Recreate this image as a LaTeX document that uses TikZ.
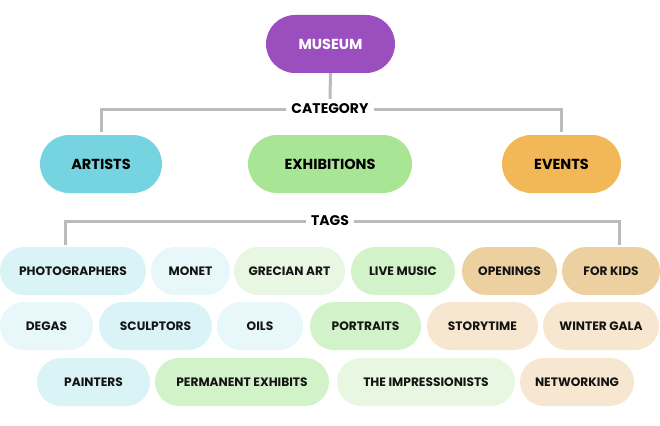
\documentclass[tikz,border=0pt]{standalone}
\usepackage{fontspec}
\setmainfont{Poppins}[BoldFont={Poppins Bold}]
\definecolor{museumc}{HTML}{9B4FBF}
\definecolor{artc}{HTML}{76D3E0}
\definecolor{exhc}{HTML}{A8E696}
\definecolor{evtc}{HTML}{F2B757}
\definecolor{cyA}{HTML}{D9F3F7}
\definecolor{cyB}{HTML}{E7F7FA}
\definecolor{grA}{HTML}{D2F2C9}
\definecolor{grB}{HTML}{E8F7E2}
\definecolor{orA}{HTML}{EDD0A0}
\definecolor{orB}{HTML}{F7E7D0}
\definecolor{linec}{HTML}{BBBBBB}
\tikzset{
  x=1pt,y=-1pt,
  mainbox/.style={rectangle, rounded corners=29pt, minimum height=58pt, inner sep=0pt, font=\fontsize{14.5}{16}\selectfont\bfseries, text=black},
  tagbox/.style={rectangle, rounded corners=24pt, minimum height=48pt, inner sep=0pt, font=\fontsize{12.2}{14}\selectfont\bfseries, text=black!92},
  lbl/.style={inner sep=5pt, font=\fontsize{14}{15}\selectfont\bfseries, text=black},
  conn/.style={draw=linec, line width=3pt}
}
\begin{document}
\begin{tikzpicture}
\useasboundingbox (0,0) rectangle (660,425);
% main nodes
\node[mainbox, fill=museumc, text=white, minimum width=129pt] (museum) at (330.5,44) {MUSEUM};
\node[lbl] (category) at (330,109) {CATEGORY};
\node[mainbox, fill=artc, minimum width=122pt] (artists) at (101,164) {ARTISTS};
\node[mainbox, fill=exhc, minimum width=164pt] (exhib) at (330,164) {EXHIBITIONS};
\node[mainbox, fill=evtc, minimum width=119pt] (events) at (561.5,164) {EVENTS};
\node[lbl] (tags) at (330,221) {TAGS};
\coordinate (tl) at (65,245);
\coordinate (tr) at (619,245);
% connectors
\draw[conn] (museum.south) -- (category.north);
\draw[conn, shorten >=3pt] (category.west) -| (artists.north);
\draw[conn, shorten >=3pt] (category.east) -| (events.north);
\draw[conn] (tags.west) -| (tl);
\draw[conn] (tags.east) -| (tr);
% row 1
\node[tagbox, fill=cyA, minimum width=146pt] (photo) at (73,271) {PHOTOGRAPHERS};
\node[tagbox, fill=cyB, minimum width=79pt] (monet) at (190.5,271) {MONET};
\node[tagbox, fill=grB, minimum width=111pt] (grecian) at (289.5,271) {GRECIAN ART};
\node[tagbox, fill=grA, minimum width=104pt] (live) at (403,271) {LIVE MUSIC};
\node[tagbox, fill=orA, minimum width=95pt] (open) at (509.5,271) {OPENINGS};
\node[tagbox, fill=orA, minimum width=98pt] (kids) at (611,271) {FOR KIDS};
% row 2
\node[tagbox, fill=cyB, minimum width=93pt] (degas) at (46.5,326) {DEGAS};
\node[tagbox, fill=cyA, minimum width=113pt] (sculpt) at (155.5,326) {SCULPTORS};
\node[tagbox, fill=cyB, minimum width=86pt] (oils) at (260,326) {OILS};
\node[tagbox, fill=grA, minimum width=111pt] (portr) at (365.5,326) {PORTRAITS};
\node[tagbox, fill=orB, minimum width=111pt] (story) at (482.5,326) {STORYTIME};
\node[tagbox, fill=orB, minimum width=116pt] (gala) at (601,326) {WINTER GALA};
% row 3
\node[tagbox, fill=cyA, minimum width=113pt] (paint) at (93.5,382) {PAINTERS};
\node[tagbox, fill=grA, minimum width=174pt] (perm) at (242,382) {PERMANENT EXHIBITS};
\node[tagbox, fill=grB, minimum width=178pt] (impr) at (426,382) {THE IMPRESSIONISTS};
\node[tagbox, fill=orB, minimum width=114pt] (netw) at (577,382) {NETWORKING};
\end{tikzpicture}
\end{document}
